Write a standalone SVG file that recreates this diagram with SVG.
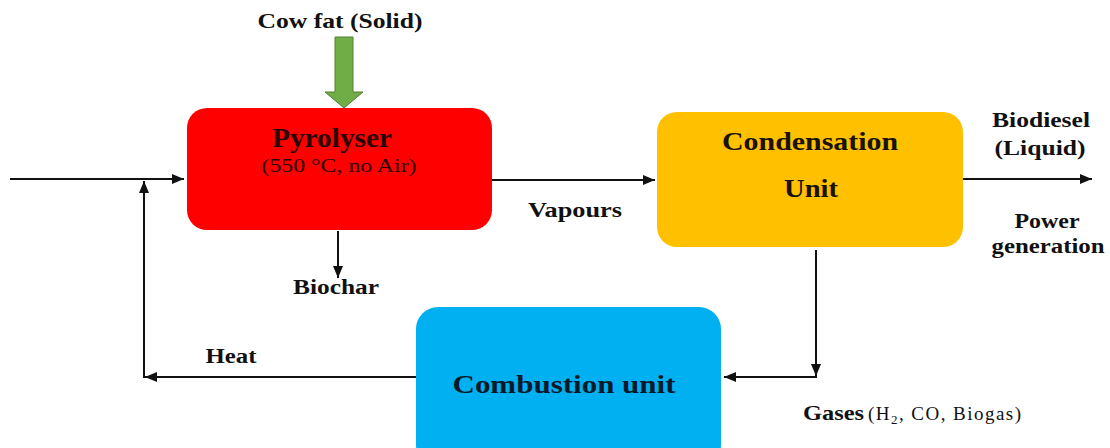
<svg xmlns="http://www.w3.org/2000/svg" width="1110" height="448" viewBox="0 0 1110 448">
<style>
.b{font-family:"Liberation Serif","Times New Roman",serif;font-weight:bold;fill:#111}
.r{font-family:"Liberation Serif","Times New Roman",serif;fill:#111}
.ln{stroke:#111;stroke-width:2;fill:none}
</style>
<defs>
<marker id="ah" markerUnits="userSpaceOnUse" markerWidth="14" markerHeight="12" refX="12" refY="6" orient="auto">
<path d="M0,1 L12,6 L0,11 Z" fill="#111"/>
</marker>
</defs>
<rect width="1110" height="448" fill="#fff"/>
<g id="connectors">
<path class="ln" d="M10,179 H184" marker-end="url(#ah)"/>
<path class="ln" d="M492,180 H655" marker-end="url(#ah)"/>
<path class="ln" d="M963,179 H1092" marker-end="url(#ah)"/>
<path class="ln" d="M338,231 V278" marker-end="url(#ah)"/>
<path class="ln" d="M816,250 V376" marker-end="url(#ah)"/>
<path class="ln" d="M817,377 H724" marker-end="url(#ah)"/>
<path class="ln" d="M416,377 H145" marker-end="url(#ah)"/>
<path class="ln" d="M144,378 V181" marker-end="url(#ah)"/>
<path d="M335,37 H353 V92 H363 L344,108 L325,92 H335 Z" fill="#70AD47" stroke="#507E32" stroke-width="1"/>
</g>
<g id="cowfat">
<text class="b" x="340" y="28" font-size="22" text-anchor="middle" textLength="165" lengthAdjust="spacingAndGlyphs">Cow fat (Solid)</text>
</g>
<g id="pyrolyser">
<rect x="187" y="108" width="305" height="122" rx="20" fill="#FF0000"/>
<text class="b" x="332" y="147" font-size="27" text-anchor="middle" textLength="120" lengthAdjust="spacingAndGlyphs" style="fill:#2a0505">Pyrolyser</text>
<text class="r" x="339" y="172" font-size="18" text-anchor="middle" textLength="155" lengthAdjust="spacingAndGlyphs" style="fill:#2a0505">(550 °C, no Air)</text>
</g>
<g id="condensation">
<rect x="657" y="112" width="306" height="135" rx="20" fill="#FFC000"/>
<text class="b" x="810" y="150" font-size="25" text-anchor="middle" textLength="176" lengthAdjust="spacingAndGlyphs" style="fill:#1a1208">Condensation</text>
<text class="b" x="811" y="197" font-size="25" text-anchor="middle" textLength="54" lengthAdjust="spacingAndGlyphs" style="fill:#1a1208">Unit</text>
</g>
<g id="combustion">
<rect x="416" y="307" width="305" height="160" rx="22" fill="#00B0F0"/>
<text class="b" x="564" y="393" font-size="25" text-anchor="middle" textLength="223" lengthAdjust="spacingAndGlyphs" style="fill:#081a2a">Combustion unit</text>
</g>
<g id="labels">
<text class="b" x="1041" y="127" font-size="20" text-anchor="middle" textLength="98" lengthAdjust="spacingAndGlyphs">Biodiesel</text>
<text class="b" x="1040" y="155" font-size="20" text-anchor="middle" textLength="91" lengthAdjust="spacingAndGlyphs">(Liquid)</text>
<text class="b" x="1047" y="228" font-size="20" text-anchor="middle" textLength="65" lengthAdjust="spacingAndGlyphs">Power</text>
<text class="b" x="1048" y="253" font-size="20" text-anchor="middle" textLength="113" lengthAdjust="spacingAndGlyphs">generation</text>
<text class="b" x="575" y="217" font-size="20" text-anchor="middle" textLength="94" lengthAdjust="spacingAndGlyphs">Vapours</text>
<text class="b" x="336" y="294" font-size="20" text-anchor="middle" textLength="86" lengthAdjust="spacingAndGlyphs">Biochar</text>
<text class="b" x="231" y="363" font-size="20" text-anchor="middle" textLength="51" lengthAdjust="spacingAndGlyphs">Heat</text>
<text class="b" x="803" y="420" font-size="21" textLength="61" lengthAdjust="spacingAndGlyphs">Gases</text>
<text class="r" x="868" y="420" font-size="19" textLength="153" lengthAdjust="spacing">(H<tspan font-size="13" dy="4">2</tspan><tspan dy="-4">, CO, Biogas)</tspan></text>
</g>
</svg>
